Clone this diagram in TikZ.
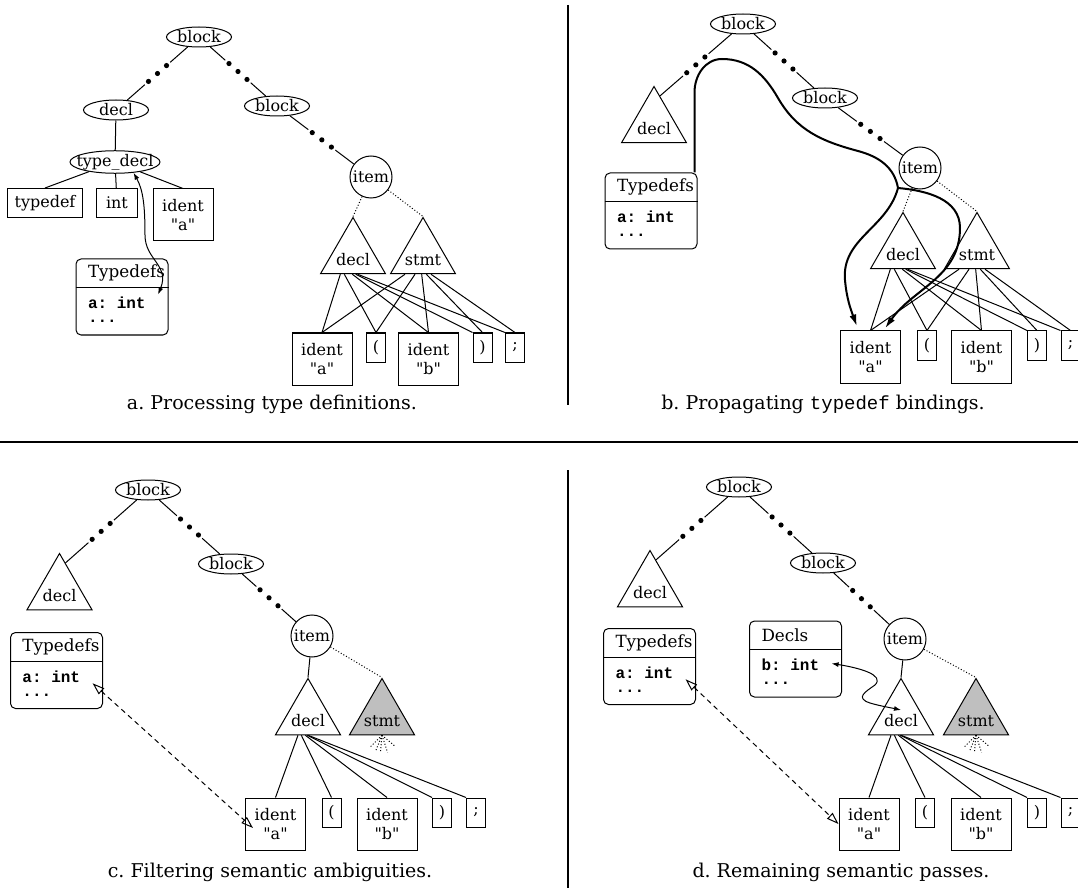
\documentclass[tikz,border=0pt]{standalone}
\usepackage{fontspec}
\setmainfont{DejaVu Serif}[Ligatures=TeXOff]
\setmonofont{Liberation Mono}
\usetikzlibrary{shapes.geometric, arrows.meta, calc}

% ... between a node and a descendant further down
\newcommand{\elided}[2]{%
  \path (#1) -- (#2) coordinate[pos=0] (e0) coordinate[pos=.5] (e2) coordinate[pos=1] (e4);
  \path ($(e2)!6pt!(e0)$) coordinate (e1) ($(e2)!6pt!(e4)$) coordinate (e3);
  \draw (e0) -- ($(e1)!2.5pt!(e0)$);
  \draw (e4) -- ($(e3)!2.5pt!(e4)$);
  \fill (e1) circle (1.3pt) (e2) circle (1.3pt) (e3) circle (1.3pt);
}
% symbol table: name, position, title, entry
\newcommand{\symtab}[4]{%
  \node[store] (#1) at (#2) {};
  \node[storehead] (#1h) at (#1.north west) {#3};
  \draw (#1h.south -| #1.west) -- (#1h.south -| #1.east);
  \node[storebody] (#1b) at (#1h.south -| #1.west) {#4\\...};
}

\begin{document}
\begin{tikzpicture}[x=0.5pt, y=-0.5pt, line width=0.5pt,
    font=\fontsize{8}{9.5}\selectfont,
    oval/.style={ellipse, draw, inner xsep=-4pt, inner ysep=0pt, minimum width=32.5pt, minimum height=10pt},
    ring/.style={circle, draw, inner sep=0pt, minimum size=21pt},
    subtree/.style={regular polygon, regular polygon sides=3, draw, inner sep=0pt, minimum size=37.5pt, label={[yshift=-2.5pt]center:#1}},
    pruned/.style={subtree=#1, fill=black!25},
    tok/.style={rectangle, draw, inner xsep=3pt, inner ysep=0pt, minimum height=14.5pt, minimum width=9.5pt},
    ident/.style={tok, align=center, minimum width=30pt, minimum height=26pt},
    store/.style={rectangle, draw, rounded corners=2.5pt, minimum width=46pt, minimum height=38pt},
    storehead/.style={anchor=north west, inner xsep=6pt, inner ysep=0pt, minimum height=14pt, font=\fontsize{8.4}{9.5}\selectfont},
    storebody/.style={anchor=north west, inner xsep=6pt, inner ysep=4.5pt, align=left, font=\fontsize{8}{7}\ttfamily\bfseries},
    caption/.style={font=\fontsize{9.5}{11}\selectfont},
    weak/.style={dash pattern=on 0.5pt off 1pt},
    flow/.style={line width=1pt, >={Latex[length=6pt,width=3.5pt]}},
    link/.style={>={Latex[length=3.5pt,width=2.5pt]}, <->},
    lookup/.style={dash pattern=on 2.5pt off 2pt, >={Triangle[open,length=6pt,width=4pt]}, <->},
    divider/.style={line width=1.4pt}]

  \useasboundingbox (0,0) rectangle (1078,888);

  % a. type definitions
  \node[oval] (ablk) at (199,37) {block};
  \node[oval] (adecl) at (116,110) {decl};
  \node[oval] (ablk2) at (277,106) {block};
  \node[oval, minimum width=45pt, minimum height=11pt] (atdecl) at (115,162) {type\_decl};
  \node[tok, minimum width=37.5pt] (atypedef) at (45,203) {typedef};
  \node[tok, minimum width=20.5pt] (aint) at (117,203) {int};
  \node[ident] (aident) at (183,215) {ident\\"a"};
  \symtab{atd}{122,297}{Typedefs}{a: int}
  \node[ring] (aitem) at (371,177) {item};
  \node[subtree=decl] (adt) at (353,255) {};
  \node[subtree=stmt] (ast) at (423,255) {};
  \node[ident] (aida) at (322,359) {ident\\"a"};
  \node[tok] (alp) at (376,347.5) {(};
  \node[ident] (aidb) at (428.5,359) {ident\\"b"};
  \node[tok] (arp) at (482.5,347.5) {)};
  \node[tok] (asemi) at (515,347.5) {;};

  \elided{ablk}{adecl}
  \elided{ablk}{ablk2}
  \elided{ablk2}{aitem}
  \draw (adecl) -- (atdecl);
  \draw (atdecl) -- (atypedef.north);
  \draw (atdecl) -- (aint);
  \draw (atdecl) -- (aident.north);
  \draw[weak] (aitem) -- (adt.corner 1);
  \draw[weak] (aitem) -- (ast.corner 1);
  \foreach \f/\k in {.31/aida.north, .37/alp.north, .49/aidb.north, .54/arp.north west, .57/asemi.north west}
    \draw ($(adt.corner 2)!\f!(adt.corner 3)$) -- (\k);
  \foreach \f/\k in {.23/aida.north, .38/alp.north, .48/aidb.north, .55/arp.north, .62/asemi.north}
    \draw ($(ast.corner 2)!\f!(ast.corner 3)$) -- (\k);
  \draw[link] (atdecl.-30) .. controls (143,190) and (145,205) .. (145,235)
    .. controls (145,260) and (170,265) .. ([yshift=-3.5pt]atdb.north east);
  \node[caption] (capa) at (272,404) {a.~Processing type definitions.};

  % b. propagating bindings
  \node[oval] (bblk) at (743,24) {block};
  \node[subtree=decl] (bdl) at (654,124) {};
  \node[oval] (bblk2) at (825,98) {block};
  \symtab{btd}{651,211}{Typedefs}{a: int}
  \node[ring] (bitem) at (920,168) {item};
  \node[subtree=decl] (bdt) at (903,250) {};
  \node[subtree=stmt] (bst) at (977,250) {};
  \node[ident] (bida) at (870.5,357) {ident\\"a"};
  \node[tok] (blp) at (927,345.5) {(};
  \node[ident] (bidb) at (981.5,357) {ident\\"b"};
  \node[tok] (brp) at (1037,345.5) {)};
  \node[tok] (bsemi) at (1070.5,345.5) {;};

  \elided{bblk}{$(bdl.corner 1)!.18!(bdl.corner 3)$}
  \elided{bblk}{bblk2}
  \elided{bblk2}{bitem}
  \draw[weak] (bitem) -- (bdt.corner 1);
  \draw[weak] (bitem) -- (bst.corner 1);
  \foreach \f/\k in {.31/bida.north, .37/blp.north, .49/bidb.north, .54/brp.north west, .57/bsemi.north west}
    \draw ($(bdt.corner 2)!\f!(bdt.corner 3)$) -- (\k);
  \foreach \f/\k in {.23/bida.north, .38/blp.north, .48/bidb.north, .55/brp.north, .62/bsemi.north}
    \draw ($(bst.corner 2)!\f!(bst.corner 3)$) -- (\k);
  \coordinate (bsplit) at (898,188);
  \draw[flow] ([xshift=-1.5pt]btd.north east) -- ++(0,-80) to[out=90,in=180] (722,59)
    to[out=0,in=120] (778,98) to[out=-60,in=165] (858,151) to[out=-15,in=100] (bsplit);
  \draw[flow,->] (bsplit) to[out=-105,in=95] (845,280) to[out=-85,in=110] ([xshift=8.5pt,yshift=2pt]bida.north west);
  \draw[flow,->] (bsplit) to[out=-5,in=90] (960,228) to[out=-90,in=55] ([xshift=-8pt,yshift=1pt]bida.north east);
  \node[caption] (capb) at (823,404) {b.~Propagating \texttt{typedef} bindings.};

  % c. filtering
  \node[oval] (cblk) at (148,490) {block};
  \node[subtree=decl] (cdl) at (59.5,591) {};
  \node[oval] (cblk2) at (231,564) {block};
  \symtab{ctd}{56.5,670.5}{Typedefs}{a: int}
  \node[ring] (citem) at (312,636) {item};
  \node[subtree=decl] (cdt) at (308,716) {};
  \node[pruned=stmt] (cst) at (382,716) {};
  \node[ident] (cida) at (275.5,824) {ident\\"a"};
  \node[tok] (clp) at (331.5,812.5) {(};
  \node[ident] (cidb) at (387,824) {ident\\"b"};
  \node[tok] (crp) at (442,812.5) {)};
  \node[tok] (csemi) at (476,812.5) {;};

  \elided{cblk}{$(cdl.corner 1)!.18!(cdl.corner 3)$}
  \elided{cblk}{cblk2}
  \elided{cblk2}{citem}
  \draw (citem) -- (cdt.corner 1);
  \draw[weak] (citem) -- (cst.corner 1);
  \foreach \f/\k in {.35/cida.north, .40/clp.north, .46/cidb.north, .49/crp.north west, .50/csemi.north west}
    \draw ($(cdt.corner 2)!\f!(cdt.corner 3)$) -- (\k);
  \foreach \a in {-135,-112,-95,-72,-40}
    \draw[weak] (cst.south) -- ++(\a:9pt);
  \draw[lookup] (ctdb.east) -- ([xshift=4pt,yshift=-2pt]cida.west);
  \node[caption] (capc) at (270,872) {c.~Filtering semantic ambiguities.};

  % d. remaining passes
  \node[oval] (dblk) at (739,487) {block};
  \node[subtree=decl] (ddl) at (650,588) {};
  \node[oval] (dblk2) at (823,563) {block};
  \symtab{dtd}{649.5,666.5}{Typedefs}{a: int}
  \symtab{ddc}{795.5,659}{Decls}{b: int}
  \node[ring] (ditem) at (905,639) {item};
  \node[subtree=decl] (ddt) at (901,716) {};
  \node[pruned=stmt] (dst) at (976,716) {};
  \node[ident] (dida) at (869,824) {ident\\"a"};
  \node[tok] (dlp) at (925,812.5) {(};
  \node[ident] (didb) at (981,824) {ident\\"b"};
  \node[tok] (drp) at (1037,812.5) {)};
  \node[tok] (dsemi) at (1070.5,812.5) {;};

  \elided{dblk}{$(ddl.corner 1)!.18!(ddl.corner 3)$}
  \elided{dblk}{dblk2}
  \elided{dblk2}{ditem}
  \draw (ditem) -- (ddt.corner 1);
  \draw[weak] (ditem) -- (dst.corner 1);
  \foreach \f/\k in {.35/dida.north, .40/dlp.north, .46/didb.north, .49/drp.north west, .50/dsemi.north west}
    \draw ($(ddt.corner 2)!\f!(ddt.corner 3)$) -- (\k);
  \foreach \a in {-135,-112,-95,-72,-40}
    \draw[weak] (dst.south) -- ++(\a:9pt);
  \draw[lookup] (dtdb.east) -- (dida.west);
  \draw[link] ([yshift=-7pt]ddcb.north east) .. controls (860,668) and (885,675) .. (875,685)
    .. controls (865,692) and (855,698) .. (870,703) .. controls (880,706) and (892,708) .. ([yshift=3pt]ddt.center);
  \node[caption] (capd) at (841,872) {d.~Remaining semantic passes.};

  % panel rules
  \draw[divider] (568,5) -- (568,405);
  \draw[divider] (0,442) -- (1078,442);
  \draw[divider] (568,470) -- (568,888);
\end{tikzpicture}
\end{document}
